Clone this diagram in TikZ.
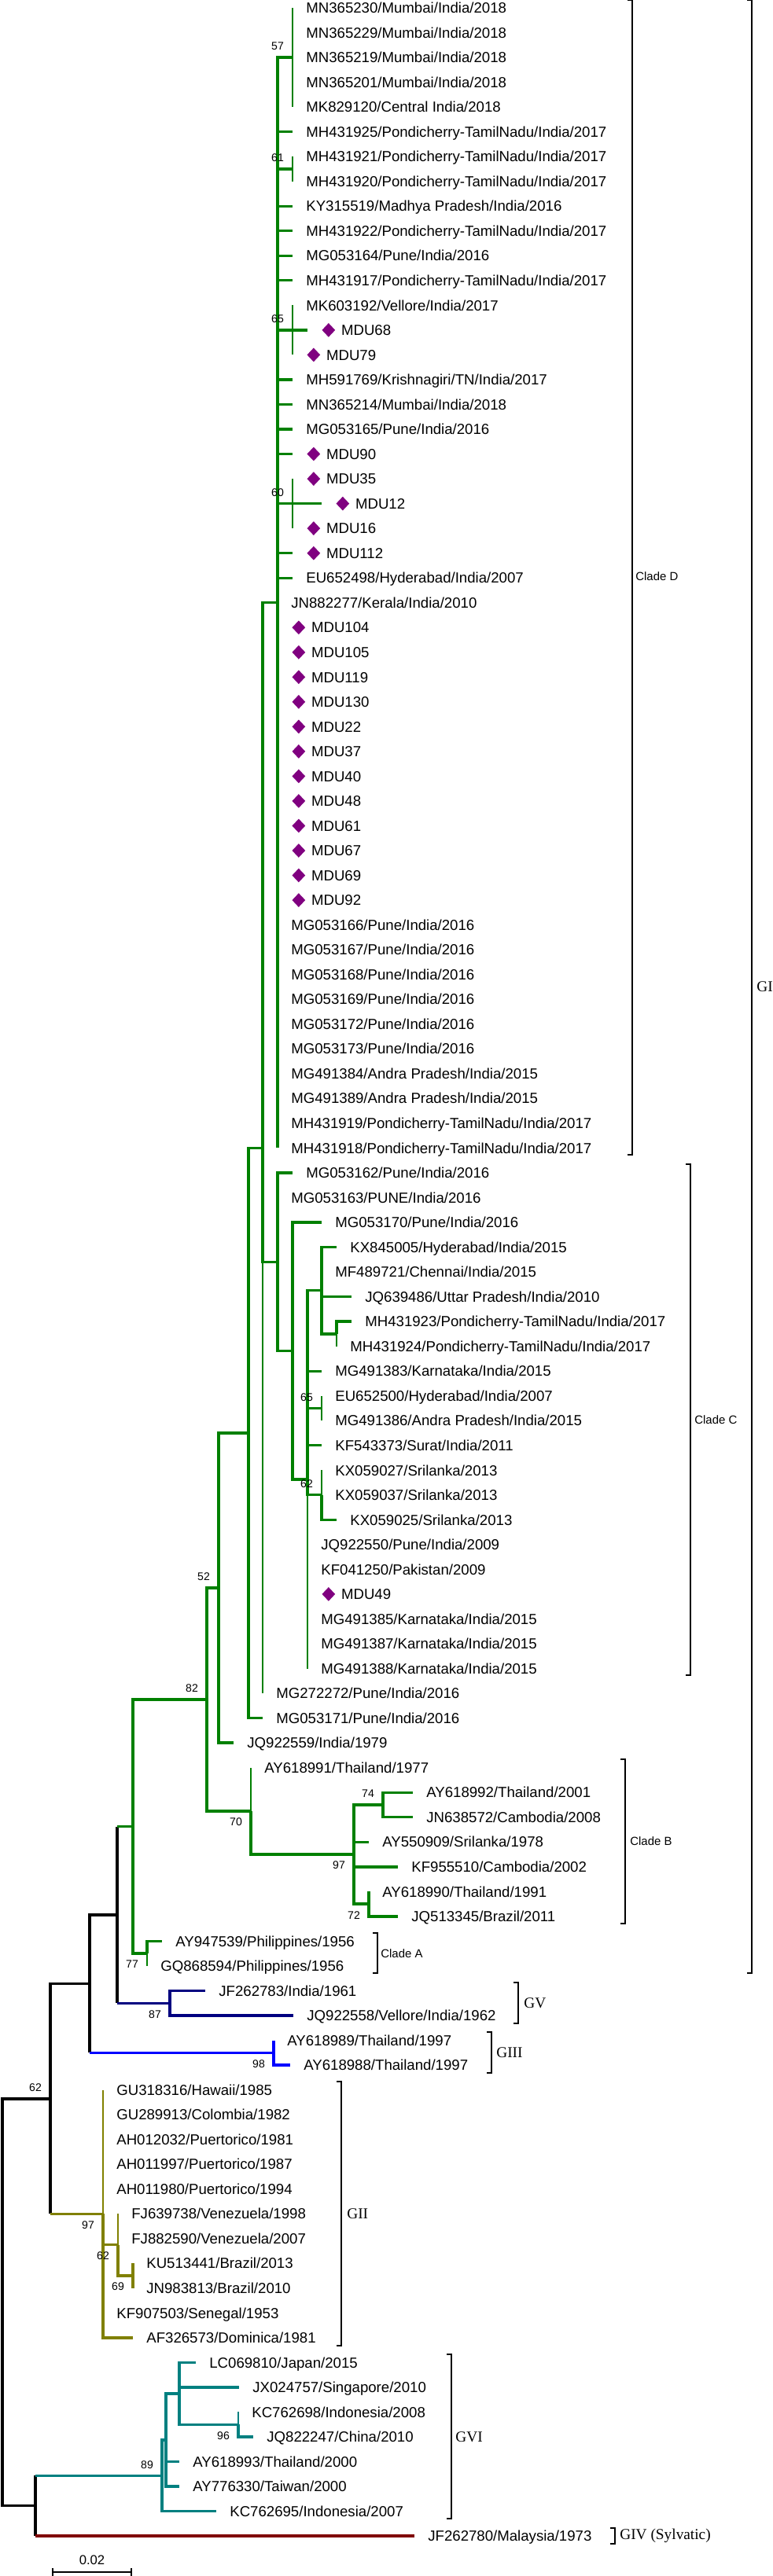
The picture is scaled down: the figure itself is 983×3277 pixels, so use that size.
\documentclass[tikz,border=0pt]{standalone}
\usepackage{fontspec}
\setmainfont{Liberation Sans}
\newfontfamily\grpfont{Liberation Serif}
\usetikzlibrary{positioning,shapes.geometric}
\definecolor{gcol}{RGB}{0,128,0}
\definecolor{vcol}{RGB}{0,0,128}
\definecolor{iiicol}{RGB}{0,0,255}
\definecolor{iicol}{RGB}{128,128,0}
\definecolor{vicol}{RGB}{0,128,128}
\definecolor{ivcol}{RGB}{128,0,0}
\definecolor{mducol}{RGB}{128,0,128}
\tikzset{
  br/.style={line width=1.9pt},
  tn/.style={line width=1.1pt},
  leaf/.style={anchor=west,inner sep=0pt,text height=7.6pt,text depth=0pt,font=\fontsize{10.6}{12}\selectfont},
  gem/.style={diamond,fill=mducol,minimum width=0.34cm,minimum height=0.36cm,inner sep=0pt},
  boot/.style={inner sep=0pt,font=\fontsize{8}{9}\selectfont,xshift=-0.38cm},
  bup/.style={boot,yshift=0.28cm},
  bdn/.style={boot,yshift=-0.28cm},
  brk/.style={line width=0.8pt},
  clade/.style={anchor=west,inner sep=0pt,font=\fontsize{8.5}{10}\selectfont},
  grp/.style={anchor=west,inner sep=0pt,font=\grpfont\fontsize{11}{13}\selectfont},
}
\begin{document}
\begin{tikzpicture}[x=0.02cm,y=-0.02cm]
\useasboundingbox (0,0) rectangle (983,3277);
% inner nodes
\coordinate (root) at (3,2928.8);
\coordinate (j62) at (64,2669.9);
\coordinate (j4) at (45,3187.7);
\coordinate (j3) at (114,2523.6);
\coordinate (j2) at (149,2435.9);
\coordinate (gI) at (169,2323.6);
\coordinate (j82) at (263,2162.0);
\coordinate (j52) at (278,2020.1);
\coordinate (jw) at (316,1823.0);
\coordinate (jx) at (334,1460.4);
\coordinate (cD) at (353,766.7);
\coordinate (d57) at (372,73.1);
\coordinate (d61) at (372,215.0);
\coordinate (d65) at (372,419.9);
\coordinate (d60) at (372,640.6);
\coordinate (cC) at (353,1605.3);
\coordinate (c1) at (372,1718.6);
\coordinate (c4) at (391,1882.1);
\coordinate (c2) at (409,1641.7);
\coordinate (c3) at (428,1696.9);
\coordinate (c65) at (409,1791.5);
\coordinate (c62) at (409,1901.8);
\coordinate (cB) at (319,2303.9);
\coordinate (b97) at (450,2359.1);
\coordinate (b74) at (487,2296.0);
\coordinate (b72) at (469,2422.1);
\coordinate (cA) at (187,2485.1);
\coordinate (gV) at (216,2548.2);
\coordinate (gIII) at (348,2611.3);
\coordinate (gII) at (131,2816.2);
\coordinate (g62) at (150,2855.6);
\coordinate (g69) at (169,2895.0);
\coordinate (gVI) at (206,3149.2);
\coordinate (v1) at (211,3103.9);
\coordinate (v2) at (228,3044.8);
\coordinate (v96) at (303,3084.2);
% leaves
\coordinate (t0) at (372,10.0); \node[leaf,right=0.34cm of t0] (l0) {MN365230/Mumbai/India/2018};
\coordinate (t1) at (372,41.5); \node[leaf,right=0.34cm of t1] (l1) {MN365229/Mumbai/India/2018};
\coordinate (t2) at (372,73.1); \node[leaf,right=0.34cm of t2] (l2) {MN365219/Mumbai/India/2018};
\coordinate (t3) at (372,104.6); \node[leaf,right=0.34cm of t3] (l3) {MN365201/Mumbai/India/2018};
\coordinate (t4) at (372,136.1); \node[leaf,right=0.34cm of t4] (l4) {MK829120/Central India/2018};
\coordinate (t5) at (372,167.7); \node[leaf,right=0.34cm of t5] (l5) {MH431925/Pondicherry-TamilNadu/India/2017};
\coordinate (t6) at (372,199.2); \node[leaf,right=0.34cm of t6] (l6) {MH431921/Pondicherry-TamilNadu/India/2017};
\coordinate (t7) at (372,230.7); \node[leaf,right=0.34cm of t7] (l7) {MH431920/Pondicherry-TamilNadu/India/2017};
\coordinate (t8) at (372,262.2); \node[leaf,right=0.34cm of t8] (l8) {KY315519/Madhya Pradesh/India/2016};
\coordinate (t9) at (372,293.8); \node[leaf,right=0.34cm of t9] (l9) {MH431922/Pondicherry-TamilNadu/India/2017};
\coordinate (t10) at (372,325.3); \node[leaf,right=0.34cm of t10] (l10) {MG053164/Pune/India/2016};
\coordinate (t11) at (372,356.8); \node[leaf,right=0.34cm of t11] (l11) {MH431917/Pondicherry-TamilNadu/India/2017};
\coordinate (t12) at (372,388.4); \node[leaf,right=0.34cm of t12] (l12) {MK603192/Vellore/India/2017};
\coordinate (t13) at (391,419.9); \node[gem,right=0.36cm of t13] (m13) {}; \node[leaf,right=0.14cm of m13] (l13) {MDU68};
\coordinate (t14) at (372,451.4); \node[gem,right=0.36cm of t14] (m14) {}; \node[leaf,right=0.14cm of m14] (l14) {MDU79};
\coordinate (t15) at (372,483.0); \node[leaf,right=0.34cm of t15] (l15) {MH591769/Krishnagiri/TN/India/2017};
\coordinate (t16) at (372,514.5); \node[leaf,right=0.34cm of t16] (l16) {MN365214/Mumbai/India/2018};
\coordinate (t17) at (372,546.0); \node[leaf,right=0.34cm of t17] (l17) {MG053165/Pune/India/2016};
\coordinate (t18) at (372,577.5); \node[gem,right=0.36cm of t18] (m18) {}; \node[leaf,right=0.14cm of m18] (l18) {MDU90};
\coordinate (t19) at (372,609.1); \node[gem,right=0.36cm of t19] (m19) {}; \node[leaf,right=0.14cm of m19] (l19) {MDU35};
\coordinate (t20) at (409,640.6); \node[gem,right=0.36cm of t20] (m20) {}; \node[leaf,right=0.14cm of m20] (l20) {MDU12};
\coordinate (t21) at (372,672.1); \node[gem,right=0.36cm of t21] (m21) {}; \node[leaf,right=0.14cm of m21] (l21) {MDU16};
\coordinate (t22) at (372,703.7); \node[gem,right=0.36cm of t22] (m22) {}; \node[leaf,right=0.14cm of m22] (l22) {MDU112};
\coordinate (t23) at (372,735.2); \node[leaf,right=0.34cm of t23] (l23) {EU652498/Hyderabad/India/2007};
\coordinate (t24) at (353,766.7); \node[leaf,right=0.34cm of t24] (l24) {JN882277/Kerala/India/2010};
\foreach \k/\nm in {25/104,26/105,27/119,28/130,29/22,30/37,31/40,32/48,33/61,34/67,35/69,36/92}{
  \coordinate (t\k) at (353,{10+31.53*\k});
  \node[gem,right=0.36cm of t\k] (m\k) {};
  \node[leaf,right=0.14cm of m\k] (l\k) {MDU\nm};
}
\foreach \k/\nm in {37/166,38/167,39/168,40/169,41/172,42/173}{
  \coordinate (t\k) at (353,{10+31.53*\k});
  \node[leaf,right=0.34cm of t\k] (l\k) {MG053\nm/Pune/India/2016};
}
\coordinate (t43) at (353,1365.8); \node[leaf,right=0.34cm of t43] (l43) {MG491384/Andra Pradesh/India/2015};
\coordinate (t44) at (353,1397.3); \node[leaf,right=0.34cm of t44] (l44) {MG491389/Andra Pradesh/India/2015};
\coordinate (t45) at (353,1428.9); \node[leaf,right=0.34cm of t45] (l45) {MH431919/Pondicherry-TamilNadu/India/2017};
\coordinate (t46) at (353,1460.4); \node[leaf,right=0.34cm of t46] (l46) {MH431918/Pondicherry-TamilNadu/India/2017};
\coordinate (t47) at (372,1491.9); \node[leaf,right=0.34cm of t47] (l47) {MG053162/Pune/India/2016};
\coordinate (t48) at (353,1523.4); \node[leaf,right=0.34cm of t48] (l48) {MG053163/PUNE/India/2016};
\coordinate (t49) at (409,1555.0); \node[leaf,right=0.34cm of t49] (l49) {MG053170/Pune/India/2016};
\coordinate (t50) at (428,1586.5); \node[leaf,right=0.34cm of t50] (l50) {KX845005/Hyderabad/India/2015};
\coordinate (t51) at (409,1618.0); \node[leaf,right=0.34cm of t51] (l51) {MF489721/Chennai/India/2015};
\coordinate (t52) at (447,1649.6); \node[leaf,right=0.34cm of t52] (l52) {JQ639486/Uttar Pradesh/India/2010};
\coordinate (t53) at (447,1681.1); \node[leaf,right=0.34cm of t53] (l53) {MH431923/Pondicherry-TamilNadu/India/2017};
\coordinate (t54) at (428,1712.6); \node[leaf,right=0.34cm of t54] (l54) {MH431924/Pondicherry-TamilNadu/India/2017};
\coordinate (t55) at (409,1744.2); \node[leaf,right=0.34cm of t55] (l55) {MG491383/Karnataka/India/2015};
\coordinate (t56) at (409,1775.7); \node[leaf,right=0.34cm of t56] (l56) {EU652500/Hyderabad/India/2007};
\coordinate (t57) at (409,1807.2); \node[leaf,right=0.34cm of t57] (l57) {MG491386/Andra Pradesh/India/2015};
\coordinate (t58) at (409,1838.7); \node[leaf,right=0.34cm of t58] (l58) {KF543373/Surat/India/2011};
\coordinate (t59) at (409,1870.3); \node[leaf,right=0.34cm of t59] (l59) {KX059027/Srilanka/2013};
\coordinate (t60) at (409,1901.8); \node[leaf,right=0.34cm of t60] (l60) {KX059037/Srilanka/2013};
\coordinate (t61) at (428,1933.3); \node[leaf,right=0.34cm of t61] (l61) {KX059025/Srilanka/2013};
\coordinate (t62) at (391,1964.9); \node[leaf,right=0.34cm of t62] (l62) {JQ922550/Pune/India/2009};
\coordinate (t63) at (391,1996.4); \node[leaf,right=0.34cm of t63] (l63) {KF041250/Pakistan/2009};
\coordinate (t64) at (391,2027.9); \node[gem,right=0.36cm of t64] (m64) {}; \node[leaf,right=0.14cm of m64] (l64) {MDU49};
\coordinate (t65) at (391,2059.5); \node[leaf,right=0.34cm of t65] (l65) {MG491385/Karnataka/India/2015};
\coordinate (t66) at (391,2091.0); \node[leaf,right=0.34cm of t66] (l66) {MG491387/Karnataka/India/2015};
\coordinate (t67) at (391,2122.5); \node[leaf,right=0.34cm of t67] (l67) {MG491388/Karnataka/India/2015};
\coordinate (t68) at (334,2154.0); \node[leaf,right=0.34cm of t68] (l68) {MG272272/Pune/India/2016};
\coordinate (t69) at (334,2185.6); \node[leaf,right=0.34cm of t69] (l69) {MG053171/Pune/India/2016};
\coordinate (t70) at (297,2217.1); \node[leaf,right=0.34cm of t70] (l70) {JQ922559/India/1979};
\coordinate (t71) at (319,2248.6); \node[leaf,right=0.34cm of t71] (l71) {AY618991/Thailand/1977};
\coordinate (t72) at (525,2280.2); \node[leaf,right=0.34cm of t72] (l72) {AY618992/Thailand/2001};
\coordinate (t73) at (525,2311.7); \node[leaf,right=0.34cm of t73] (l73) {JN638572/Cambodia/2008};
\coordinate (t74) at (469,2343.2); \node[leaf,right=0.34cm of t74] (l74) {AY550909/Srilanka/1978};
\coordinate (t75) at (506,2374.8); \node[leaf,right=0.34cm of t75] (l75) {KF955510/Cambodia/2002};
\coordinate (t76) at (469,2406.3); \node[leaf,right=0.34cm of t76] (l76) {AY618990/Thailand/1991};
\coordinate (t77) at (506,2437.8); \node[leaf,right=0.34cm of t77] (l77) {JQ513345/Brazil/2011};
\coordinate (t78) at (206,2469.3); \node[leaf,right=0.34cm of t78] (l78) {AY947539/Philippines/1956};
\coordinate (t79) at (187,2500.9); \node[leaf,right=0.34cm of t79] (l79) {GQ868594/Philippines/1956};
\coordinate (t80) at (261,2532.4); \node[leaf,right=0.34cm of t80] (l80) {JF262783/India/1961};
\coordinate (t81) at (373,2563.9); \node[leaf,right=0.34cm of t81] (l81) {JQ922558/Vellore/India/1962};
\coordinate (t82) at (348,2595.5); \node[leaf,right=0.34cm of t82] (l82) {AY618989/Thailand/1997};
\coordinate (t83) at (369,2627.0); \node[leaf,right=0.34cm of t83] (l83) {AY618988/Thailand/1997};
\coordinate (t84) at (131,2658.5); \node[leaf,right=0.34cm of t84] (l84) {GU318316/Hawaii/1985};
\coordinate (t85) at (131,2690.1); \node[leaf,right=0.34cm of t85] (l85) {GU289913/Colombia/1982};
\coordinate (t86) at (131,2721.6); \node[leaf,right=0.34cm of t86] (l86) {AH012032/Puertorico/1981};
\coordinate (t87) at (131,2753.1); \node[leaf,right=0.34cm of t87] (l87) {AH011997/Puertorico/1987};
\coordinate (t88) at (131,2784.6); \node[leaf,right=0.34cm of t88] (l88) {AH011980/Puertorico/1994};
\coordinate (t89) at (150,2816.2); \node[leaf,right=0.34cm of t89] (l89) {FJ639738/Venezuela/1998};
\coordinate (t90) at (150,2847.7); \node[leaf,right=0.34cm of t90] (l90) {FJ882590/Venezuela/2007};
\coordinate (t91) at (169,2879.2); \node[leaf,right=0.34cm of t91] (l91) {KU513441/Brazil/2013};
\coordinate (t92) at (169,2910.8); \node[leaf,right=0.34cm of t92] (l92) {JN983813/Brazil/2010};
\coordinate (t93) at (131,2942.3); \node[leaf,right=0.34cm of t93] (l93) {KF907503/Senegal/1953};
\coordinate (t94) at (169,2973.8); \node[leaf,right=0.34cm of t94] (l94) {AF326573/Dominica/1981};
\coordinate (t95) at (249,3005.4); \node[leaf,right=0.34cm of t95] (l95) {LC069810/Japan/2015};
\coordinate (t96) at (304,3036.9); \node[leaf,right=0.34cm of t96] (l96) {JX024757/Singapore/2010};
\coordinate (t97) at (303,3068.4); \node[leaf,right=0.34cm of t97] (l97) {KC762698/Indonesia/2008};
\coordinate (t98) at (322,3099.9); \node[leaf,right=0.34cm of t98] (l98) {JQ822247/China/2010};
\coordinate (t99) at (228,3131.5); \node[leaf,right=0.34cm of t99] (l99) {AY618993/Thailand/2000};
\coordinate (t100) at (228,3163.0); \node[leaf,right=0.34cm of t100] (l100) {AY776330/Taiwan/2000};
\coordinate (t101) at (275,3194.5); \node[leaf,right=0.34cm of t101] (l101) {KC762695/Indonesia/2007};
\coordinate (t102) at (527,3226.1); \node[leaf,right=0.34cm of t102] (l102) {JF262780/Malaysia/1973};
% backbone
\draw[br] (root) |- (j62);
\draw[br] (root) |- (j4);
\draw[br] (j62) |- (j3);
\draw[br] (j62) -- (j62|-gII);
\draw[br,iicol] (j62|-gII) -- (gII);
\draw[br] (j3) |- (j2);
\draw[br] (j3) -- (j3|-gIII);
\draw[br,iiicol] (j3|-gIII) -- (gIII);
\draw[br] (j2) -- (j2|-gI);
\draw[br,gcol] (j2|-gI) -- (gI);
\draw[br] (j2) -- (j2|-gV);
\draw[br,vcol] (j2|-gV) -- (gV);
\draw[br] (j4) -- (j4|-gVI);
\draw[br,vicol] (j4|-gVI) -- (gVI);
\draw[br] (j4) -- (j4|-t102);
\draw[br,ivcol] (j4|-t102) -- (t102);
% GI
\begin{scope}[gcol]
\draw[br] (gI) |- (j82);
\draw[br] (gI) |- (cA);
\draw[br] (j82) |- (j52);
\draw[br] (j82) |- (cB);
\draw[br] (j52) |- (jw);
\draw[br] (j52) |- (t70);
\draw[br] (jw) |- (jx);
\draw[br] (jw) |- (t69);
\draw[br] (jx) |- (cD);
\draw[br] (jx) |- (cC);
\draw[tn] (jx) |- (t68);
\draw[br] (cD) |- (d57);
\foreach \ch in {t5,d61,t8,t9,t10,t11,d65,t15,t16,t17,t18,d60,t22,t23}
  \draw[br] (cD) |- (\ch);
\foreach \k in {24,...,46}
  \draw[br] (cD) |- (t\k);
\foreach \k in {0,...,4}
  \draw[tn] (d57) |- (t\k);
\draw[tn] (d61) |- (t6);
\draw[tn] (d61) |- (t7);
\draw[tn] (d65) |- (t12);
\draw[br] (d65) |- (t13);
\draw[tn] (d65) |- (t14);
\draw[tn] (d60) |- (t19);
\draw[br] (d60) |- (t20);
\draw[tn] (d60) |- (t21);
% clade C
\draw[br] (cC) |- (t47);
\draw[tn] (cC) |- (t48);
\draw[br] (cC) |- (c1);
\draw[br] (c1) |- (t49);
\draw[br] (c1) |- (c4);
\foreach \ch in {c2,t55,c65,t58,c62}
  \draw[br] (c4) |- (\ch);
\foreach \k in {62,...,67}
  \draw[tn] (c4) |- (t\k);
\foreach \ch in {t50,t51,t52,c3}
  \draw[br] (c2) |- (\ch);
\draw[br] (c3) |- (t53);
\draw[tn] (c3) |- (t54);
\draw[tn] (c65) |- (t56);
\draw[tn] (c65) |- (t57);
\draw[tn] (c62) |- (t59);
\draw[tn] (c62) |- (t60);
\draw[br] (c62) |- (t61);
% clades B and A
\draw[tn] (cB) |- (t71);
\draw[br] (cB) |- (b97);
\foreach \ch in {b74,t74,t75,b72}
  \draw[br] (b97) |- (\ch);
\draw[br] (b74) |- (t72);
\draw[br] (b74) |- (t73);
\draw[br] (b72) |- (t76);
\draw[br] (b72) |- (t77);
\draw[br] (cA) |- (t78);
\draw[tn] (cA) |- (t79);
\end{scope}
% GV, GIII, GII, GVI
\draw[br,vcol] (gV) |- (t80);
\draw[br,vcol] (gV) |- (t81);
\draw[br,iiicol] (gIII) |- (t82);
\draw[br,iiicol] (gIII) |- (t83);
\foreach \k in {84,...,88}
  \draw[tn,iicol] (gII) |- (t\k);
\draw[br,iicol] (gII) |- (g62);
\draw[tn,iicol] (gII) |- (t93);
\draw[br,iicol] (gII) |- (t94);
\draw[tn,iicol] (g62) |- (t89);
\draw[tn,iicol] (g62) |- (t90);
\draw[br,iicol] (g62) |- (g69);
\draw[br,iicol] (g69) |- (t91);
\draw[br,iicol] (g69) |- (t92);
\draw[br,vicol] (gVI) |- (v1);
\draw[br,vicol] (gVI) |- (t101);
\draw[br,vicol] (v1) |- (v2);
\draw[br,vicol] (v1) |- (t99);
\draw[br,vicol] (v1) |- (t100);
\draw[br,vicol] (v2) |- (t95);
\draw[br,vicol] (v2) |- (t96);
\draw[br,vicol] (v2) |- (v96);
\draw[tn,vicol] (v96) |- (t97);
\draw[br,vicol] (v96) |- (t98);
% bootstrap
\node[bup] (bs57) at (d57) {57};
\node[bup] (bs61) at (d61) {61};
\node[bup] (bs65) at (d65) {65};
\node[bup] (bs60) at (d60) {60};
\node[bup] (bs65c) at (c65) {65};
\node[bup] (bs62c) at (c62) {62};
\node[bup] (bs52) at (j52) {52};
\node[bup] (bs82) at (j82) {82};
\node[bdn] (bs70) at (cB) {70};
\node[bup] (bs74) at (b74) {74};
\node[bdn] (bs97b) at (b97) {97};
\node[bdn] (bs72) at (b72) {72};
\node[bdn] (bs77) at (cA) {77};
\node[bdn] (bs87) at (gV) {87};
\node[bdn] (bs98) at (gIII) {98};
\node[bup] (bs62) at (j62) {62};
\node[bdn] (bs97) at (gII) {97};
\node[bdn] (bs62g) at (g62) {62};
\node[bdn] (bs69) at (g69) {69};
\node[bdn] (bs96) at (v96) {96};
\node[bup] (bs89) at (gVI) {89};
% brackets
\coordinate (kD1) at (804,0); \coordinate (kD2) at (804,1469);
\draw[brk] (kD1) ++(-6,0) -- (kD1) -- (kD2) -- ++(-6,0);
\node[clade] (nD) at (808,733) {Clade D};
\coordinate (kC1) at (878,1481); \coordinate (kC2) at (878,2131);
\draw[brk] (kC1) ++(-6,0) -- (kC1) -- (kC2) -- ++(-6,0);
\node[clade] (nC) at (883,1806) {Clade C};
\coordinate (kB1) at (795,2238); \coordinate (kB2) at (795,2447);
\draw[brk] (kB1) ++(-6,0) -- (kB1) -- (kB2) -- ++(-6,0);
\node[clade] (nB) at (801,2342) {Clade B};
\coordinate (kA1) at (480,2459); \coordinate (kA2) at (480,2510);
\draw[brk] (kA1) ++(-6,0) -- (kA1) -- (kA2) -- ++(-6,0);
\node[clade] (nA) at (484,2485) {Clade A};
\coordinate (kI1) at (956,0); \coordinate (kI2) at (956,2510);
\draw[brk] (kI1) ++(-6,0) -- (kI1) -- (kI2) -- ++(-6,0);
\node[grp] (nI) at (962,1255) {GI};
\coordinate (kV1) at (659,2522); \coordinate (kV2) at (659,2574);
\draw[brk] (kV1) ++(-6,0) -- (kV1) -- (kV2) -- ++(-6,0);
\node[grp] (nV) at (666,2548) {GV};
\coordinate (kIII1) at (625,2585); \coordinate (kIII2) at (625,2637);
\draw[brk] (kIII1) ++(-6,0) -- (kIII1) -- (kIII2) -- ++(-6,0);
\node[grp] (nIII) at (631,2611) {GIII};
\coordinate (kII1) at (434,2648); \coordinate (kII2) at (434,2984);
\draw[brk] (kII1) ++(-6,0) -- (kII1) -- (kII2) -- ++(-6,0);
\node[grp] (nII) at (441,2816) {GII};
\coordinate (kVI1) at (574,2995); \coordinate (kVI2) at (574,3204);
\draw[brk] (kVI1) ++(-6,0) -- (kVI1) -- (kVI2) -- ++(-6,0);
\node[grp] (nVI) at (579,3100) {GVI};
\coordinate (kIV1) at (782,3216); \coordinate (kIV2) at (782,3236);
\draw[brk] (kIV1) ++(-6,0) -- (kIV1) -- (kIV2) -- ++(-6,0);
\node[grp] (nIV) at (788,3226) {GIV (Sylvatic)};
% scale
\coordinate (s0) at (67,3272); \coordinate (s1) at (167,3272);
\draw[brk] (s0) -- (s1);
\draw[brk] (s0) ++(0,-5) -- ++(0,10);
\draw[brk] (s1) ++(0,-5) -- ++(0,10);
\node[inner sep=0pt,font=\fontsize{9.5}{11}\selectfont] (sl) at (117,3257) {0.02};
\end{tikzpicture}
\end{document}
